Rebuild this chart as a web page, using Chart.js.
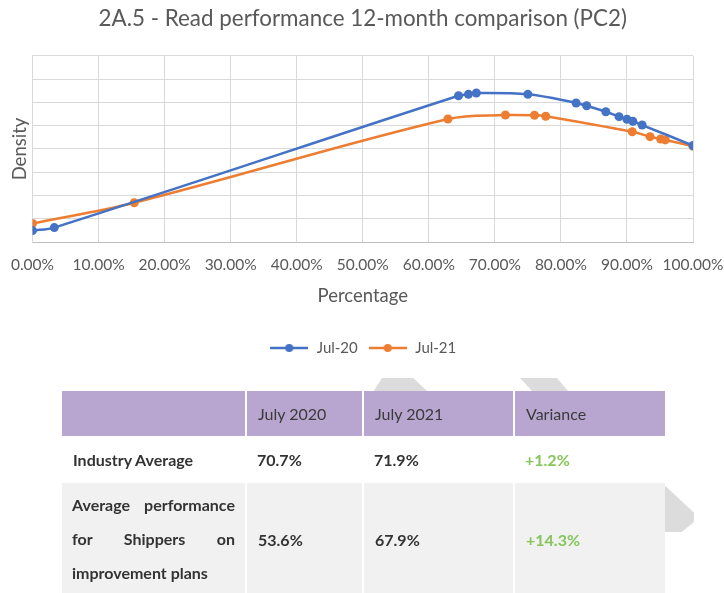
<!DOCTYPE html>
<html>
<head>
<meta charset="utf-8">
<script src="https://cdn.jsdelivr.net/npm/chart.js@4.4.0/dist/chart.umd.min.js"></script>
<style>
  body { margin: 0; background: #fff; font-family: Lato, "Open Sans", sans-serif; }
  #wrap { position: relative; width: 724px; height: 593px; overflow: hidden; }
  #readChart { position: absolute; left: 0; top: 0; }
  .wm { position: absolute; background: #dcdcdc; z-index: 0; }
  table {
    position: absolute; left: 62px; top: 391px; z-index: 1;
    border-collapse: collapse; table-layout: fixed; width: 603px;
    font-size: 16px; color: #333;
  }
  td { padding: 0 10px 0 11px; vertical-align: middle; }
  tr.head td { background: #b8a6d1; height: 45px; border-left: 2px solid #fff; color: #3a3a3a; }
  tr.head td:first-child { border-left: none; }
  tr.r1 td { background: #fff; height: 47px; font-weight: bold; }
  tr.r2 td { background: #f1f1f1; height: 112px; font-weight: bold; border-left: 2px solid #fff; }
  tr.r2 td:first-child { border-left: none; }
  td.lab { text-align: justify; line-height: 34px; padding-left: 10px; }
  td.var { color: #86c55a; }
</style>
</head>
<body>
<div id="wrap">
  <canvas id="readChart" width="724" height="380"></canvas>
  <div class="wm" style="left:370px;top:378px;width:60px;height:14px;clip-path:polygon(20% 0,72% 0,97% 100%,5% 100%)"></div>
  <div class="wm" style="left:520px;top:378px;width:48px;height:13px;clip-path:polygon(0 0,77% 0,100% 100%,25% 100%)"></div>
  <div class="wm" style="left:650px;top:486px;width:44px;height:46px;border-radius:0 0 12px 0;clip-path:polygon(0 0,35% 0,100% 58%,100% 78%,72% 100%,0 100%)"></div>
  <table>
    <colgroup><col style="width:184px"><col style="width:117px"><col style="width:151px"><col style="width:151px"></colgroup>
    <tr class="head"><td></td><td>July 2020</td><td>July 2021</td><td>Variance</td></tr>
    <tr class="r1"><td>Industry Average</td><td>70.7%</td><td>71.9%</td><td class="var">+1.2%</td></tr>
    <tr class="r2"><td class="lab">Average performance for Shippers on improvement plans</td><td>53.6%</td><td>67.9%</td><td class="var">+14.3%</td></tr>
  </table>
</div>
<script>
// read performance (%) on x, density on y (axis has no labels, values in grid steps)
const jul20X = [0, 3.3, 64.5, 66.0, 67.2, 75.0, 82.3, 83.9, 86.8, 88.8, 90.0, 90.9, 92.3, 100];
const jul20Y = [0.49, 0.62, 6.29, 6.35, 6.41, 6.35, 5.98, 5.86, 5.60, 5.39, 5.28, 5.19, 5.03, 4.15];
const jul21X = [0, 15.4, 62.9, 71.6, 76.0, 77.7, 90.8, 93.5, 95.1, 95.8, 100];
const jul21Y = [0.80, 1.69, 5.29, 5.46, 5.45, 5.41, 4.74, 4.53, 4.43, 4.39, 4.12];
const seriesNames = ['Jul-20', 'Jul-21'];
const seriesColors = ['#4472c4', '#ed7d31'];

const toPoints = (xs, ys) => xs.map((x, i) => ({ x: x, y: ys[i] }));

// legend icon: short line with a dot in the middle, like Excel
const legendIcon = (color) => {
  const c = document.createElement('canvas');
  c.width = 38; c.height = 10;
  const g = c.getContext('2d');
  g.strokeStyle = color; g.lineWidth = 2.5;
  g.beginPath(); g.moveTo(0, 5); g.lineTo(38, 5); g.stroke();
  g.fillStyle = color;
  g.beginPath(); g.arc(19, 5, 4, 0, Math.PI * 2); g.fill();
  return c;
};

Chart.defaults.font.family = 'Lato';
const grey = '#595959';

const makeSet = (i, xs, ys) => ({
  label: seriesNames[i],
  data: toPoints(xs, ys),
  borderColor: seriesColors[i],
  backgroundColor: seriesColors[i],
  borderWidth: 2.5,
  pointRadius: 4.5,
  pointBorderWidth: 0,
  tension: 0.35,
  fill: false
});

new Chart(document.getElementById('readChart'), {
  type: 'line',
  data: { datasets: [makeSet(0, jul20X, jul20Y), makeSet(1, jul21X, jul21Y)] },
  options: {
    responsive: false,
    animation: false,
    layout: { padding: { left: 9, right: 31, top: 5, bottom: 14.5 } },
    plugins: {
      title: {
        display: true,
        fullSize: false,
        text: '2A.5 - Read performance 12-month comparison (PC2)',
        color: grey,
        font: { size: 22.4, weight: 'normal' },
        padding: { top: 0, bottom: 24.1 }
      },
      legend: {
        position: 'bottom',
        fullSize: false,
        labels: {
          color: grey,
          font: { size: 15 },
          padding: 10,
          usePointStyle: true,
          pointStyleWidth: 40,
          generateLabels: (chart) => chart.data.datasets.map((ds, i) => ({
            text: ds.label,
            fontColor: grey,
            pointStyle: legendIcon(seriesColors[i]),
            strokeStyle: 'transparent',
            lineWidth: 0,
            hidden: false,
            datasetIndex: i
          }))
        }
      },
      tooltip: { enabled: false }
    },
    scales: {
      x: {
        type: 'linear',
        min: 0,
        max: 100,
        ticks: {
          stepSize: 10,
          autoSkip: false,
          color: grey,
          font: { size: 15.5 },
          padding: 14,
          maxRotation: 0,
          callback: (v) => v.toFixed(2) + '%'
        },
        grid: { color: '#d9d9d9', drawTicks: false },
        border: { color: '#bfbfbf' },
        title: {
          display: true,
          text: 'Percentage',
          color: grey,
          font: { size: 18.5 },
          padding: { top: 9.7, bottom: 23.8 }
        },
        afterFit: (scale) => {
          scale.height = 88.5;
          scale.paddingLeft = 0;
          scale.paddingRight = 0;
        }
      },
      y: {
        min: 0,
        max: 8,
        ticks: { display: false, stepSize: 1 },
        grid: { color: '#d9d9d9', drawTicks: false },
        border: { color: '#d9d9d9' },
        title: {
          display: true,
          text: 'Density',
          color: grey,
          font: { size: 18.5 },
          padding: 0
        },
        afterFit: (scale) => { scale.width = 23.5; }
      }
    }
  }
});
</script>
</body>
</html>
